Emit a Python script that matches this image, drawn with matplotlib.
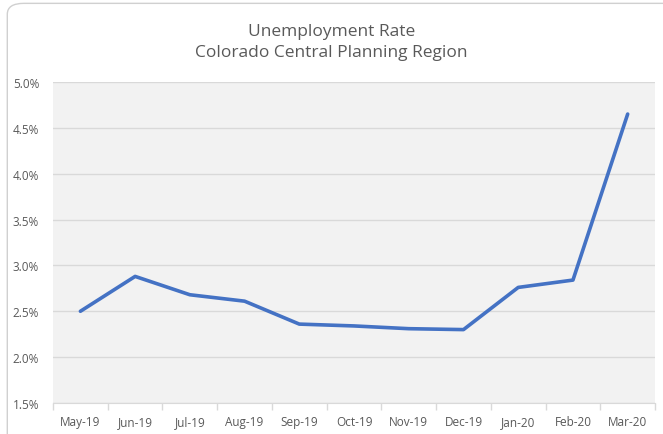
import matplotlib.pyplot as plt
from matplotlib.patches import FancyBboxPatch
from matplotlib.ticker import FuncFormatter, FixedLocator

# datos
months = ['May-19', 'Jun-19', 'Jul-19', 'Aug-19', 'Sep-19', 'Oct-19',
          'Nov-19', 'Dec-19', 'Jan-20', 'Feb-20', 'Mar-20']
rate = [2.50, 2.88, 2.68, 2.61, 2.36, 2.34, 2.31, 2.30, 2.76, 2.84, 4.65]

plt.rcParams['font.family'] = ['Open Sans', 'DejaVu Sans']

fig = plt.figure(figsize=(6.63, 4.35), dpi=100)

# borde del gráfico
border = FancyBboxPatch((0.011, -0.05), 1.05, 1.04,
                        boxstyle='round,pad=0,rounding_size=0.025',
                        transform=fig.transFigure, facecolor='none',
                        edgecolor='#D0D0D0', linewidth=1.0, zorder=-1)
fig.patches.append(border)

ax = fig.add_axes([0.080, 0.0713, 0.908, 0.738])
ax.set_facecolor('#F2F2F2')

x = list(range(len(months)))
ax.plot(x, rate, color='#4472C4', linewidth=2.6, solid_capstyle='round',
        solid_joinstyle='round', zorder=3)

ax.set_xlim(-0.5, len(months) - 0.5)
ax.set_ylim(1.5, 5.0)
ax.set_yticks([1.5, 2.0, 2.5, 3.0, 3.5, 4.0, 4.5, 5.0])
ax.yaxis.set_major_formatter(FuncFormatter(lambda v, p: f'{v:.1f}%'))
ax.grid(axis='y', color='#D9D9D9', linewidth=1.0, zorder=0)
ax.set_axisbelow(True)

ax.set_xticks(x)
ax.set_xticklabels(months)
ax.xaxis.set_minor_locator(FixedLocator([i - 0.5 for i in range(len(months) + 1)]))
ax.tick_params(axis='x', which='major', length=0, pad=9, labelsize=8.5,
               labelcolor='#595959')
ax.tick_params(axis='x', which='minor', length=5, color='#D9D9D9', width=1)
ax.tick_params(axis='y', length=0, pad=10, labelsize=8.5, labelcolor='#595959')

for s in ['top', 'right', 'left']:
    ax.spines[s].set_visible(False)
ax.spines['bottom'].set_color('#D9D9D9')

fig.text(0.5, 0.926, 'Unemployment Rate', ha='center', va='center',
         fontsize=12.5, color='#595959')
fig.text(0.5, 0.878, 'Colorado Central Planning Region', ha='center',
         va='center', fontsize=12.5, color='#595959')

fig.savefig('out.png', dpi=100)
